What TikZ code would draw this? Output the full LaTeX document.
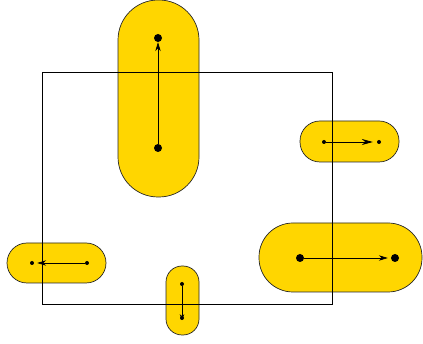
\documentclass[tikz,border=0pt]{standalone}
\usetikzlibrary{arrows.meta}
\definecolor{capsulegold}{RGB}{255,214,0}
\tikzset{
    capsule/.style={fill=capsulegold, draw=black!85, line width=0.7pt},
    bigdot/.style={circle, fill=black, inner sep=0pt, minimum size=8pt},
    smalldot/.style={circle, fill=black, inner sep=0pt, minimum size=4pt},
    move/.style={-{Stealth[length=9pt,width=5.5pt]}, line width=0.7pt},
}
\begin{document}
\begin{tikzpicture}[x=1pt,y=-1pt]
                \useasboundingbox (0,0) rectangle (423,344);
                % capsules
                \draw[capsule, rounded corners=40pt]
                    (118,0) rectangle (199,197);
                \draw[capsule, rounded corners=20pt]
                    (300,121) rectangle (399,162);
                \draw[capsule, rounded corners=20pt]
                    (7,243) rectangle (106,283);
                \draw[capsule, rounded corners=16pt]
                    (166,266) rectangle (199,335);
                \draw[capsule, rounded corners=34pt]
                    (259,223) rectangle (422,292);
                % frame
                \draw[line width=0.7pt]
                    (42,72) rectangle (332,304);
                % dots
                \node[bigdot] (upTail) at (158,148) {};
                \node[bigdot] (upHead) at (158,38) {};
                \node[smalldot] (rightTail) at (324,142) {};
                \node[smalldot] (rightHead) at (379,142) {};
                \node[smalldot] (leftTail) at (87,263) {};
                \node[smalldot] (leftHead) at (32,263) {};
                \node[smalldot] (downTail) at (182,284) {};
                \node[smalldot] (downHead) at (182,318) {};
                \node[bigdot] (wideTail) at (300,258) {};
                \node[bigdot] (wideHead) at (395,258) {};
                % moves
                \draw[move] (upTail) -- (upHead);
                \draw[move, -{Stealth[length=11pt,width=6pt]}, shorten >=4pt]
                    (rightTail) -- (rightHead);
                \draw[move, shorten >=3pt] (leftTail) -- (leftHead);
                \draw[move, -{Stealth[length=6pt,width=4.5pt]}]
                    (downTail) -- (downHead.south);
                \draw[move, shorten >=3pt] (wideTail) -- (wideHead);
            \end{tikzpicture}
\end{document}
